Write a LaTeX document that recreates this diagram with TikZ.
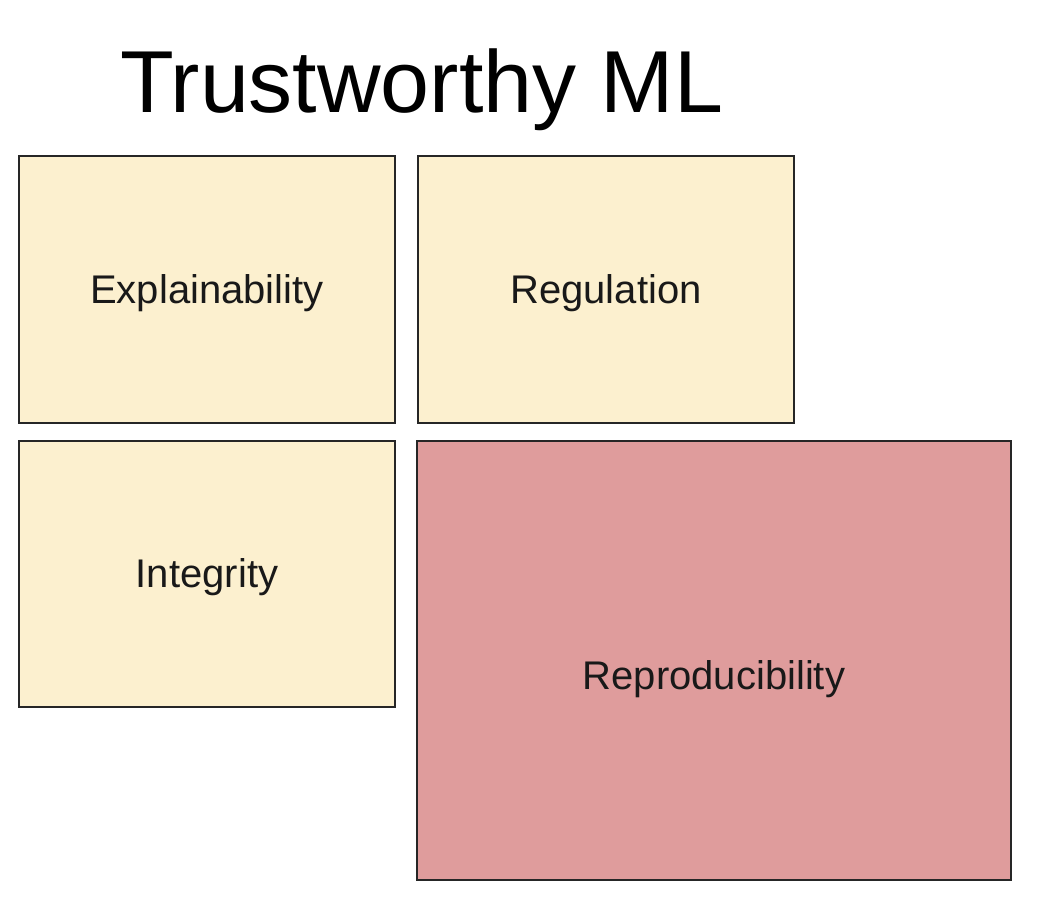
\documentclass[tikz,border=0pt]{standalone}
\usepackage{fontspec}
\setmainfont{Liberation Sans}
\usepackage{tikz}
\usetikzlibrary{shapes}
\definecolor{paleyellow}{HTML}{FCF0CF}
\definecolor{palered}{HTML}{DF9C9C}
\tikzset{
  pillar/.style={draw=black!85, line width=2pt, rectangle, inner sep=0pt,
    text depth=0pt, font=\fontsize{40}{48}\selectfont, text=black!90},
}
\begin{document}
\begin{tikzpicture}[x=1pt, y=-1pt]
       % Sizes
       \pgfmathsetmacro{\boxw}{376}
       \pgfmathsetmacro{\boxh}{266}
       \useasboundingbox (0,0) rectangle (1040,904);
       % title
       \node[anchor=base west, inner sep=0pt, font=\fontsize{88}{100}\selectfont]
         (title) at (120,113) {Trustworthy ML};
       % boxes
       \node[pillar, fill=paleyellow, minimum width=\boxw pt, minimum height=\boxh pt]
         (expl) at (207,289.5) {Explainability};
       \node[pillar, fill=paleyellow, minimum width=\boxw pt, minimum height=\boxh pt]
         (regu) at (606,289.5) {Regulation};
       \node[pillar, fill=paleyellow, minimum width=\boxw pt, minimum height=\boxh pt]
         (inte) at (207,573.5) {Integrity};
       \node[pillar, fill=palered, minimum width=594pt, minimum height=439pt]
         (repr) at (714,660.5) {};
       % labels
       \node[font=\fontsize{40}{48}\selectfont, text=black!90, inner sep=0pt,
         text depth=0pt] (reprlabel) at (714,675) {Reproducibility};
\end{tikzpicture}
\end{document}
